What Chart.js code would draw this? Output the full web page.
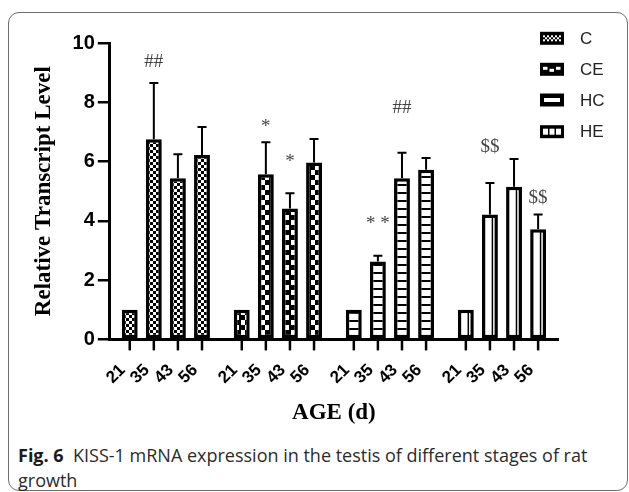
<!DOCTYPE html>
<html>
<head>
<meta charset="utf-8">
<script src="https://cdn.jsdelivr.net/npm/chart.js@4.4.1/dist/chart.umd.min.js"></script>
<style>
  html, body { margin: 0; padding: 0; background: #fff; }
  body { width: 629px; height: 492px; position: relative; overflow: hidden; }
  #frame { position: absolute; left: 8px; top: 12px; width: 618px; height: 477px; border: 1px solid #6e6e6e; border-radius: 11px; }
  #wrap { position: absolute; left: 0; top: 0; width: 629px; height: 440px; }
  #caption { position: absolute; left: 18px; top: 443px; width: 605px; font-family: "Open Sans", sans-serif; font-size: 18px; line-height: 25px; color: #2b2b2b; white-space: nowrap; }
  #caption b { color: #1a1a1a; }
</style>
</head>
<body>
<div id="frame"></div>
<div id="wrap"><canvas id="chart" width="629" height="440"></canvas></div>
<div id="caption"><b>Fig. 6</b>&nbsp; KISS-1 mRNA expression in the testis of different stages of rat<br>growth</div>
<script>
var groups = ["C", "CE", "HC", "HE"]
var ages = ["21", "35", "43", "56"]

// mean relative level, one array per group, in age order
var meanC  = [1.00, 6.75, 5.44, 6.22]
var meanCE = [1.00, 5.57, 4.42, 5.97]
var meanHC = [1.00, 2.63, 5.44, 5.72]
var meanHE = [1.00, 4.21, 5.15, 3.72]

// upper error bars
var errC  = [0, 1.90, 0.81, 0.95]
var errCE = [0, 1.08, 0.51, 0.79]
var errHC = [0, 0.19, 0.86, 0.40]
var errHE = [0, 1.07, 0.94, 0.49]

var yTicks = [0, 2, 4, 6, 8, 10]

// significance marks: group, age, text, height (y units)
var markGroup = ["C", "CE", "CE", "HC", "HC", "HE", "HE"]
var markAge   = ["35", "35", "43", "35", "43", "35", "56"]
var markText  = ["##", "*", "*", "* *", "##", "$$", "$$"]
var markLevel = [9.42, 7.33, 6.15, 4.06, 7.87, 6.52, 4.80]

var means = [meanC, meanCE, meanHC, meanHE]
var errs = [errC, errCE, errHC, errHE]

function makePattern(w, h, draw) {
  var c = document.createElement("canvas")
  c.width = w
  c.height = h
  var g = c.getContext("2d")
  g.fillStyle = "#fff"
  g.fillRect(0, 0, w, h)
  g.fillStyle = "#000"
  draw(g)
  return document.getElementById("chart").getContext("2d").createPattern(c, "repeat")
}

// fine checker
var patC = makePattern(6, 6, function (g) {
  g.fillRect(0, 0, 3, 3)
  g.fillRect(3, 3, 3, 3)
})
// coarse zig-zag checker
var patCE = makePattern(10, 10, function (g) {
  g.fillRect(0, 0, 10, 10)
  g.fillStyle = "#fff"
  g.fillRect(1, 0, 4, 5)
  g.fillRect(5, 5, 4, 5)
})
// ladder (horizontal rungs)
var patHC = makePattern(8, 8, function (g) {
  g.fillRect(0, 0, 8, 2)
})
var patHE = "#fff"

var fills = [patC, patCE, patHC, patHE]

var datasets = ages.map(function (a, i) {
  return {
    label: a,
    data: means.map(function (m) { return m[i] }),
    backgroundColor: fills,
    borderColor: "#000",
    borderWidth: 3.5,
    borderSkipped: false
  }
})

var extras = {
  id: "extras",
  afterDatasetsDraw: function (chart) {
    var ctx = chart.ctx
    var ys = chart.scales.y
    var bottom = chart.chartArea.bottom
    ctx.save()
    ctx.strokeStyle = "#000"
    ctx.fillStyle = "#000"

    for (var di = 0; di < ages.length; di++) {
      var meta = chart.getDatasetMeta(di)
      for (var gi = 0; gi < groups.length; gi++) {
        var el = meta.data[gi]
        var v = means[gi][di]
        var e = errs[gi][di]

        // inner rule of the last group's bars
        if (gi == 3) {
          ctx.lineWidth = 1.5
          ctx.beginPath()
          ctx.moveTo(el.x + el.width / 2 - 5.5, el.y + 3)
          ctx.lineTo(el.x + el.width / 2 - 5.5, el.base)
          ctx.stroke()
        }

        if (e > 0) {
          var top = ys.getPixelForValue(v + e)
          ctx.lineWidth = 2
          ctx.beginPath()
          ctx.moveTo(el.x, el.y)
          ctx.lineTo(el.x, top)
          ctx.moveTo(el.x - 4.5, top)
          ctx.lineTo(el.x + 4.5, top)
          ctx.stroke()
        }

        // tick + rotated age label
        ctx.lineWidth = 2.5
        ctx.beginPath()
        ctx.moveTo(el.x, bottom)
        ctx.lineTo(el.x, bottom + 11)
        ctx.stroke()

        ctx.save()
        ctx.translate(el.x - 7, bottom + 28)
        ctx.rotate(-Math.PI / 4)
        ctx.font = "bold 17px 'Liberation Sans', Arial, sans-serif"
        ctx.textAlign = "right"
        ctx.textBaseline = "middle"
        ctx.fillText(ages[di], 0, 0)
        ctx.restore()
      }
    }

    // significance marks
    ctx.font = "19px 'Liberation Serif', 'Times New Roman', serif"
    ctx.fillStyle = "#444"
    ctx.textAlign = "center"
    ctx.textBaseline = "alphabetic"
    for (var k = 0; k < markText.length; k++) {
      var g = groups.indexOf(markGroup[k])
      var a = ages.indexOf(markAge[k])
      var bar = chart.getDatasetMeta(a).data[g]
      var py = ys.getPixelForValue(markLevel[k])
      var m = ctx.measureText(markText[k])
      var base = py + (m.actualBoundingBoxAscent - m.actualBoundingBoxDescent) / 2
      ctx.fillText(markText[k], bar.x, base)
    }

    // legend
    var lx = 540
    var lys = [38.3, 69.3, 100, 131.7]
    for (var li = 0; li < groups.length; li++) {
      var cy = lys[li]
      ctx.fillStyle = "#000"
      ctx.fillRect(lx, cy - 6.5, 24, 13)
      ctx.fillStyle = "#fff"
      if (li == 0) {
        for (var q = 0; q < 9; q++) {
          for (var r = 0; r < 3; r++) {
            if ((q + r) % 2 == 0) ctx.fillRect(lx + 3 + q * 2, cy - 3 + r * 2, 2, 2)
          }
        }
      } else if (li == 1) {
        for (var q = 0; q < 3; q++) {
          ctx.fillRect(lx + 3 + q * 6.5, cy - 2.5 + (q % 2) * 2, 4.5, 3)
        }
      } else if (li == 2) {
        ctx.fillRect(lx + 4, cy - 2, 16, 4)
      } else {
        for (var q = 0; q < 3; q++) {
          ctx.fillRect(lx + 3 + q * 6.5, cy - 3, 5, 6)
        }
      }
      ctx.fillStyle = "#222"
      ctx.font = "17px 'Liberation Sans', Arial, sans-serif"
      ctx.textAlign = "left"
      ctx.textBaseline = "middle"
      ctx.fillText(groups[li], lx + 40, cy + 1)
    }
    ctx.restore()
  }
}

new Chart(document.getElementById("chart"), {
  type: "bar",
  data: {
    labels: groups,
    datasets: datasets
  },
  options: {
    responsive: false,
    animation: false,
    devicePixelRatio: 1,
    categoryPercentage: 0.86,
    barPercentage: 0.66,
    layout: {
      padding: {left: 23, right: 71, top: 43, bottom: 13}
    },
    plugins: {
      legend: {display: false},
      tooltip: {enabled: false}
    },
    scales: {
      x: {
        grid: {display: false, drawTicks: false},
        border: {display: true, color: "#000", width: 3},
        ticks: {display: false},
        title: {
          display: true,
          text: "AGE (d)",
          color: "#000",
          font: {family: "'Liberation Serif', 'Times New Roman', serif", size: 23, weight: "bold"},
          padding: {top: 60, bottom: 0}
        }
      },
      y: {
        min: 0,
        max: 10,
        afterBuildTicks: function (s) {
          s.ticks = yTicks.map(function (v) { return {value: v} })
        },
        grid: {drawOnChartArea: false, drawTicks: true, tickLength: 12, color: "#000", lineWidth: 2.5},
        border: {display: true, color: "#000", width: 3},
        ticks: {
          color: "#000",
          padding: 3,
          font: {family: "'Liberation Sans', Arial, sans-serif", size: 20, weight: "bold"}
        },
        title: {
          display: true,
          text: "Relative Transcript Level",
          color: "#000",
          font: {family: "'Liberation Serif', 'Times New Roman', serif", size: 23, weight: "bold"},
          padding: {top: 7, bottom: 12}
        }
      }
    }
  },
  plugins: [extras]
})
</script>
</body>
</html>
